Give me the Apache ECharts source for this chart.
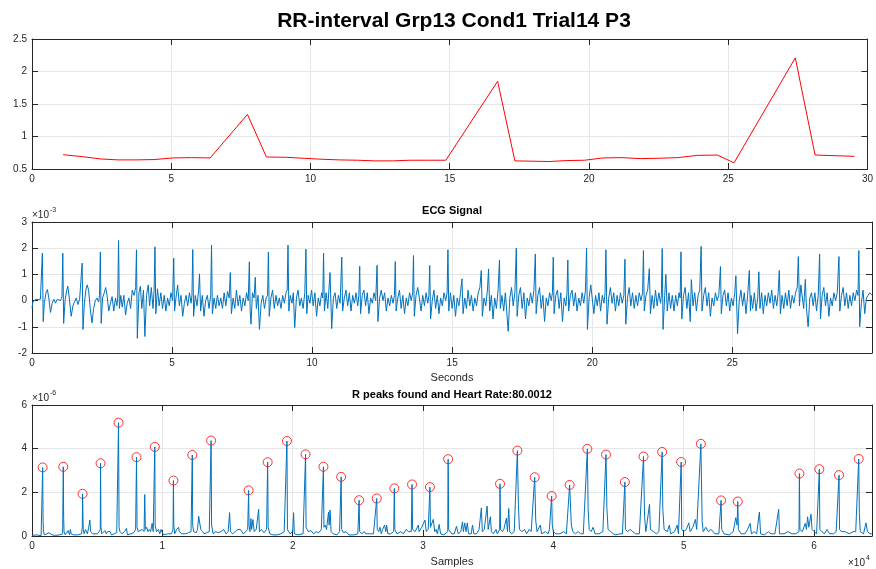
<!DOCTYPE html>
<html><head><meta charset="utf-8">
<script src="https://cdn.jsdelivr.net/npm/echarts@6/dist/echarts.min.js"></script>
<style>html,body{margin:0;padding:0;background:#fff}#c{width:876px;height:569px}</style>
</head><body><div id="c"></div>
<script>
// ---------- DATA ----------
const chartTitle = 'RR-interval Grp13 Cond1 Trial14 P3';
const ecgTitle = 'ECG Signal';
const peaksTitle = 'R peaks found and Heart Rate:80.0012';

// RR interval (s) plotted at beat time (s)
const rrSeconds = [1.117,1.806,2.449,3.091,3.734,4.385,5.051,5.726,6.397,7.737,8.417,9.106,9.772,10.41,11.04,11.69,12.31,12.94,13.58,14.21,14.86,16.72,17.34,17.96,18.57,19.20,19.84,20.50,21.18,21.84,22.51,23.19,23.89,24.61,25.21,27.41,28.12,28.83,29.53];
const rrValues  = [0.72,0.69,0.655,0.64,0.64,0.645,0.67,0.675,0.67,1.34,0.685,0.68,0.665,0.65,0.64,0.635,0.625,0.625,0.635,0.635,0.635,1.85,0.625,0.62,0.615,0.63,0.635,0.67,0.675,0.66,0.665,0.675,0.71,0.715,0.595,2.21,0.715,0.705,0.695];

// ECG signal: [seconds, value x1e-3]
const ecgPoints = [
[0.00,-0.30],[0.03,-0.05],[0.06,0.02],[0.10,0.00],[0.14,0.05],[0.18,0.02],[0.22,0.04],[0.26,0.00],[0.30,0.05],[0.34,0.10],
[0.37,1.81],[0.40,-0.80],[0.44,-0.10],[0.50,0.30],[0.55,0.42],[0.60,0.10],[0.66,-0.45],[0.72,-0.10],[0.78,0.05],[0.84,-0.10],[0.90,0.05],[0.96,0.10],[1.02,0.00],[1.07,0.15],
[1.10,1.81],[1.13,-0.87],[1.18,0.00],[1.24,0.40],[1.28,0.55],[1.33,0.10],[1.40,-0.60],[1.46,-0.20],[1.52,-0.05],[1.58,0.10],[1.64,-0.15],[1.70,0.05],[1.76,0.10],
[1.79,1.43],[1.82,-1.10],[1.87,-0.10],[1.93,0.45],[1.97,0.60],[2.02,0.40],[2.08,-0.30],[2.14,-0.85],[2.20,-0.30],[2.26,0.00],[2.32,0.10],[2.38,-0.05],[2.41,0.20],
[2.44,1.85],[2.47,-0.87],[2.52,0.10],[2.58,0.30],[2.63,0.50],[2.68,0.20],[2.74,-0.40],[2.80,-0.10],[2.86,0.15],[2.92,-0.40],[2.98,0.10],[3.03,-0.20],[3.06,0.10],
[3.09,2.29],[3.12,-0.30],[3.17,0.20],[3.22,-0.25],[3.28,0.20],[3.34,-0.55],[3.40,-0.10],[3.46,0.10],[3.52,-0.30],[3.58,0.40],[3.64,0.20],[3.70,0.50],
[3.73,1.94],[3.76,-1.44],[3.82,0.30],[3.87,0.55],[3.92,-0.30],[3.98,0.40],[4.03,-1.37],[4.09,0.20],[4.15,0.60],[4.20,-0.20],[4.26,0.50],[4.32,-0.30],[4.36,0.40],
[4.39,2.05],[4.42,-0.50],[4.48,0.45],[4.54,-0.20],[4.60,0.30],[4.66,-0.30],[4.72,0.20],[4.78,-0.40],[4.84,0.10],[4.90,-0.20],[4.96,0.30],[5.02,0.00],
[5.06,1.62],[5.09,-0.40],[5.14,0.10],[5.20,0.60],[5.26,-0.20],[5.32,0.20],[5.38,-0.60],[5.44,-0.10],[5.50,0.20],[5.56,-0.20],[5.62,0.30],[5.68,-0.10],[5.71,0.20],
[5.74,1.95],[5.77,-0.60],[5.83,0.20],[5.89,-0.20],[5.95,0.40],[5.98,1.02],[6.02,-0.40],[6.08,0.20],[6.14,-0.60],[6.20,0.00],[6.26,0.20],[6.32,-0.30],[6.38,0.20],
[6.41,2.12],[6.44,-0.50],[6.50,0.10],[6.56,-0.30],[6.62,0.20],[6.68,-0.20],[6.74,0.10],[6.80,-0.30],[6.86,0.30],[6.92,-0.20],[6.98,0.35],[7.04,0.10],
[7.08,1.07],[7.12,-0.50],[7.18,0.10],[7.24,-0.30],[7.30,0.40],[7.36,-0.20],[7.42,0.20],[7.48,-0.40],[7.54,0.10],[7.60,-0.20],[7.66,0.30],[7.72,0.00],
[7.76,1.48],[7.79,-0.40],[7.82,-0.90],[7.87,0.30],[7.93,0.10],[7.97,0.89],[8.01,-0.30],[8.07,0.20],[8.12,-1.10],[8.18,-0.10],[8.24,0.20],[8.30,-0.30],[8.36,0.10],[8.41,0.20],
[8.44,1.85],[8.47,-0.60],[8.53,0.10],[8.59,0.40],[8.65,-0.30],[8.71,0.20],[8.77,-0.20],[8.83,0.10],[8.89,-0.30],[8.95,0.20],[9.01,-0.10],[9.07,0.30],[9.11,0.40],
[9.14,2.12],[9.17,-0.40],[9.22,0.20],[9.28,-0.10],[9.33,0.30],[9.38,-1.03],[9.44,0.10],[9.50,0.40],[9.56,-0.20],[9.62,0.10],[9.68,-0.30],[9.74,0.30],
[9.78,1.96],[9.81,-0.50],[9.86,0.20],[9.92,-0.10],[9.98,0.40],[10.04,-0.20],[10.10,0.30],[10.16,-0.60],[10.22,0.10],[10.28,-0.20],[10.34,0.30],[10.38,0.10],
[10.41,1.81],[10.44,-0.40],[10.50,0.30],[10.56,-0.30],[10.60,0.40],[10.64,1.07],[10.70,-1.07],[10.76,0.10],[10.82,0.30],[10.88,-0.30],[10.94,0.20],[11.00,-0.10],
[11.06,1.66],[11.09,-0.40],[11.15,0.10],[11.21,0.40],[11.27,-0.20],[11.33,0.30],[11.39,-0.40],[11.45,0.20],[11.51,-0.10],[11.57,0.30],[11.63,-0.20],[11.67,0.20],
[11.70,1.31],[11.73,-0.50],[11.79,0.20],[11.85,0.40],[11.91,-0.20],[11.97,0.30],[12.03,-0.50],[12.09,0.10],[12.15,-0.10],[12.21,0.30],[12.27,0.00],
[12.32,1.35],[12.35,-0.80],[12.41,0.10],[12.47,0.40],[12.53,0.00],[12.59,0.30],[12.65,-0.40],[12.71,0.10],[12.77,-0.20],[12.83,0.20],[12.89,-0.10],[12.94,0.20],
[12.97,1.49],[13.00,-0.40],[13.06,0.10],[13.12,0.40],[13.18,-0.30],[13.24,0.20],[13.30,-0.50],[13.36,0.10],[13.42,-0.20],[13.48,0.30],[13.54,0.00],[13.59,0.30],
[13.62,1.72],[13.65,-0.60],[13.71,0.20],[13.77,0.50],[13.83,0.10],[13.89,-0.40],[13.95,0.20],[14.01,-0.20],[14.07,0.30],[14.13,-0.10],[14.17,0.20],
[14.20,1.34],[14.23,-0.70],[14.29,0.00],[14.35,0.40],[14.41,-0.30],[14.47,0.20],[14.53,-0.50],[14.59,0.10],[14.65,-0.20],[14.71,0.30],[14.77,0.00],[14.82,0.30],
[14.85,1.94],[14.88,-0.40],[14.94,0.30],[15.00,-0.30],[15.06,0.20],[15.12,-0.60],[15.18,0.10],[15.24,-0.20],[15.30,0.30],
[15.35,0.83],[15.39,-0.50],[15.45,0.10],[15.51,-0.30],[15.57,0.40],[15.63,-0.20],[15.69,0.20],[15.75,-0.40],[15.81,0.10],[15.87,-0.20],[15.93,0.30],[15.99,0.50],
[16.04,1.15],[16.08,-0.60],[16.14,0.10],[16.20,-0.20],[16.26,0.40],[16.30,1.21],[16.34,-0.40],[16.40,0.20],[16.46,-0.70],[16.52,0.10],[16.58,-0.30],[16.64,0.40],
[16.69,1.55],[16.72,-0.30],[16.78,0.20],[16.84,-0.40],[16.90,0.30],[17.00,-1.17],[17.06,0.10],[17.12,0.50],[17.18,-0.20],[17.24,0.30],
[17.29,2.00],[17.32,-0.60],[17.38,0.20],[17.44,0.50],[17.50,-0.30],[17.56,0.30],[17.62,-0.70],[17.68,0.10],[17.74,-0.20],[17.80,0.30],[17.86,-0.10],[17.92,0.40],
[17.97,1.78],[18.00,-0.50],[18.06,0.20],[18.12,0.50],[18.18,-0.30],[18.24,0.20],[18.30,-0.80],[18.36,0.10],[18.42,-0.20],[18.48,0.30],[18.54,0.00],[18.58,0.30],
[18.61,1.66],[18.64,-0.50],[18.70,0.20],[18.76,0.40],[18.82,-0.30],[18.88,0.30],[18.94,-0.80],[19.00,0.10],[19.06,-0.20],[19.10,0.30],
[19.13,1.55],[19.16,-0.40],[19.22,0.20],[19.28,0.40],[19.34,-0.20],[19.40,0.30],[19.46,-0.40],[19.52,0.10],[19.58,-0.20],[19.64,0.30],[19.70,-0.10],[19.76,0.40],
[19.80,2.00],[19.83,-1.10],[19.89,0.10],[19.95,0.60],[20.00,0.66],[20.06,-0.50],[20.12,0.20],[20.18,-0.20],[20.24,0.30],[20.30,-0.40],[20.36,0.20],[20.42,-0.10],[20.46,0.30],
[20.49,1.94],[20.53,-0.90],[20.59,0.10],[20.65,0.50],[20.71,-0.10],[20.77,0.30],[20.83,-0.40],[20.89,0.20],[20.95,-0.20],[21.01,0.30],[21.07,-0.10],[21.13,0.20],
[21.17,1.58],[21.20,-0.90],[21.26,0.10],[21.32,0.50],[21.38,-0.20],[21.44,0.30],[21.50,-0.30],[21.56,0.20],[21.62,-0.20],[21.68,0.30],[21.74,0.00],[21.80,0.30],
[21.83,1.91],[21.86,-0.40],[21.92,0.20],[21.98,0.40],[22.04,1.22],[22.08,-0.50],[22.14,0.20],[22.20,-0.30],[22.26,0.40],[22.32,-0.20],[22.38,0.30],[22.44,-0.10],[22.47,0.20],
[22.50,1.99],[22.53,-1.10],[22.59,0.20],[22.63,1.00],[22.68,-0.40],[22.74,0.30],[22.80,-0.30],[22.86,0.20],[22.92,-0.40],[22.98,0.20],[23.04,-0.20],[23.10,0.30],[23.14,0.10],
[23.17,1.86],[23.20,-0.70],[23.26,0.20],[23.32,0.50],[23.38,-0.30],[23.44,0.30],[23.50,-0.80],[23.54,0.80],[23.60,-0.20],[23.66,0.30],[23.72,-0.40],[23.78,0.20],[23.84,0.40],
[23.89,2.07],[23.92,-0.40],[23.98,0.20],[24.04,0.50],[24.10,-0.20],[24.16,0.30],[24.22,-0.60],[24.28,0.10],[24.34,-0.20],[24.40,0.30],[24.46,0.00],[24.52,0.20],
[24.58,1.30],[24.61,-0.50],[24.67,0.20],[24.73,0.40],[24.79,-0.20],[24.85,0.30],[24.91,-0.40],[24.97,0.10],[25.03,-0.20],[25.09,0.30],
[25.13,0.95],[25.19,-1.26],[25.25,0.00],[25.31,0.40],[25.37,-0.20],[25.43,0.30],[25.49,-0.50],[25.55,0.20],
[25.61,1.15],[25.65,-0.40],[25.67,0.20],[25.73,-0.30],[25.79,0.30],[25.85,-0.40],[25.91,0.10],[25.95,1.10],[25.99,-0.30],[26.05,0.30],[26.11,-0.50],[26.17,0.20],[26.23,-0.20],[26.29,0.30],[26.35,-0.10],[26.41,0.40],[26.47,-0.30],[26.53,0.20],[26.59,-0.20],[26.64,0.30],
[26.68,1.15],[26.72,-0.50],[26.78,0.20],[26.84,-0.30],[26.90,0.30],[26.96,-0.20],[27.02,0.40],[27.08,-0.30],[27.14,0.20],[27.20,-0.10],[27.26,0.30],[27.32,0.50],
[27.36,1.68],[27.40,-0.20],[27.45,0.60],[27.55,-0.30],[27.61,0.81],[27.65,-0.30],[27.71,-1.00],[27.77,0.10],[27.83,0.30],[27.89,-0.20],[27.95,0.30],[28.01,-0.40],[28.07,0.20],
[28.12,1.78],[28.15,-0.70],[28.21,0.20],[28.27,0.50],[28.33,-0.20],[28.39,0.30],[28.45,-0.60],[28.51,0.10],[28.57,-0.20],[28.63,0.30],[28.69,0.00],[28.75,0.30],
[28.81,1.68],[28.84,-0.40],[28.90,0.20],[28.96,0.50],[29.02,-0.20],[29.08,0.30],[29.14,-0.30],[29.20,0.20],[29.26,-0.20],[29.32,0.30],[29.38,0.00],[29.44,0.40],[29.49,0.20],
[29.52,1.91],[29.55,-1.00],[29.61,-0.10],[29.67,0.40],[29.73,-0.50],[29.79,0.10],[29.85,0.20],[29.91,0.30],[29.99,0.20]
];

// Detected R peaks: sample index and value (x1e-6)
const peakSamples = [817,2400,3880,5260,6640,8020,9420,10850,12300,13740,16620,18080,19560,20990,22360,23720,25100,26450,27800,29160,30530,31930,35910,37240,38570,39870,41250,42610,44040,45490,46920,48350,49810,51320,52870,54150,58880,60410,61920,63430];
const peakValues  = [3.14,3.17,1.93,3.33,5.19,3.61,4.08,2.54,3.71,4.37,2.09,3.38,4.35,3.74,3.17,2.71,1.64,1.72,2.18,2.36,2.24,3.52,2.39,3.91,2.69,1.83,2.34,3.99,3.73,2.47,3.64,3.85,3.39,4.22,1.63,1.58,2.86,3.06,2.79,3.53];

// Envelope signal: [sample, value x1e-6]
const envPoints = [
[0,0.02],[300,0.05],[700,0.02],[790,0.1],[817,3.14],[850,0.7],[880,0.2],[950,0.05],[1100,0.1],[1300,0.15],[1430,0.22],[1550,0.05],[1800,0.03],[2100,0.05],[2350,0.1],
[2400,3.17],[2430,0.8],[2460,0.2],[2550,0.05],[2700,0.1],[2780,0.25],[2830,0.3],[2880,0.05],[2950,0.3],[3000,0.1],[3200,0.05],[3500,0.05],[3800,0.1],[3860,0.4],
[3880,1.93],[3900,1.2],[3930,0.3],[4000,0.1],[4100,0.3],[4190,0.3],[4250,0.1],[4350,0.4],[4440,0.73],[4500,0.2],[4650,0.1],[4800,0.15],[5000,0.1],[5150,0.2],[5240,0.3],
[5260,3.33],[5290,0.4],[5350,0.1],[5500,0.15],[5600,0.25],[5700,0.1],[5800,0.2],[5900,0.15],[6000,0.2],[6100,0.05],[6300,0.1],[6500,0.15],[6600,0.2],
[6640,5.19],[6680,0.4],[6750,0.2],[6900,0.1],[7100,0.2],[7250,0.35],[7320,0.05],[7600,0.1],[7800,0.15],[7950,0.3],
[8020,3.61],[8040,2.05],[8060,0.4],[8150,0.2],[8300,0.25],[8450,0.3],[8600,0.2],[8650,1.9],[8700,0.3],[8800,0.4],[8900,0.2],[9000,0.3],[9100,0.2],[9220,0.58],[9300,0.2],
[9420,4.08],[9450,0.5],[9550,0.2],[9700,0.3],[9800,0.1],[9900,0.3],[10000,0.15],[10100,0.05],[10400,0.1],[10700,0.1],[10820,0.3],
[10850,2.54],[10880,0.5],[10950,0.1],[11100,0.3],[11250,0.4],[11300,0.2],[11500,0.1],[11800,0.1],[12000,0.15],[12200,0.2],
[12300,3.71],[12330,0.5],[12400,0.2],[12600,0.15],[12700,0.3],[12790,0.9],[12850,0.85],[12950,0.3],[13100,0.2],[13200,0.1],[13400,0.15],[13600,0.2],
[13740,4.37],[13780,0.5],[13900,0.1],[14100,0.2],[14300,0.15],[14500,0.2],[14700,0.3],[14900,0.1],[15050,0.2],[15160,1.07],[15230,0.2],[15400,0.1],[15600,0.2],[15800,0.3],[16000,0.3],[16200,0.1],[16400,0.2],[16550,0.3],
[16620,2.09],[16650,0.5],[16720,0.2],[16800,0.8],[16850,0.3],[16950,0.75],[17050,0.2],[17200,0.3],[17390,1.22],[17450,0.2],[17600,0.3],[17800,0.15],[18000,0.3],
[18080,3.38],[18120,0.4],[18250,0.1],[18500,0.05],[18800,0.05],[19100,0.1],[19350,0.2],[19500,0.2],
[19560,4.35],[19600,0.3],[19800,0.1],[20000,0.2],[20070,1.07],[20130,0.1],[20400,0.05],[20800,0.1],
[20990,3.74],[21030,0.4],[21200,0.2],[21400,0.25],[21600,0.1],[21800,0.2],[22000,0.15],[22200,0.3],
[22360,3.17],[22400,0.4],[22500,0.5],[22600,0.3],[22750,1.1],[22800,0.5],[22870,1.19],[22950,0.2],[23100,0.1],[23400,0.05],[23600,0.2],
[23720,2.71],[23760,0.3],[23900,0.15],[24100,0.2],[24300,0.05],[24700,0.05],[25000,0.1],
[25100,1.64],[25140,0.2],[25300,0.1],[25500,0.2],[25600,0.1],[25900,0.1],[26200,0.1],
[26450,1.72],[26490,0.3],[26600,0.2],[26700,0.4],[26800,0.1],[26900,0.3],[27050,0.5],[27150,0.2],[27210,0.5],[27300,0.1],[27500,0.1],[27750,0.2],
[27800,2.18],[27840,0.3],[28000,0.1],[28300,0.2],[28500,0.1],[28700,0.3],[28900,0.2],[29100,0.2],
[29160,2.36],[29200,0.3],[29400,0.2],[29640,0.5],[29700,0.2],[29900,0.4],[30150,0.73],[30250,0.2],[30400,0.3],
[30530,2.24],[30570,0.4],[30790,0.76],[30900,0.2],[31000,0.3],[31100,0.1],[31240,0.53],[31350,0.1],[31600,0.05],[31900,0.2],
[31930,3.52],[31970,0.3],[32200,0.1],[32400,0.1],[32570,0.45],[32700,0.1],[32900,0.2],[33030,0.65],[33100,0.2],[33200,0.6],[33300,0.2],[33400,0.6],[33500,0.1],[33700,0.1],[33800,0.5],[33900,0.1],[34100,0.1],[34300,0.3],[34480,1.29],[34550,0.2],[34700,0.3],[34920,1.37],[35000,0.3],[35170,0.88],[35250,0.2],[35400,0.1],[35600,0.3],[35700,0.1],[35880,0.3],
[35910,2.39],[35950,0.3],[36100,0.2],[36200,0.3],[36400,0.82],[36480,0.2],[36580,1.26],[36650,0.2],[36800,0.1],[37000,0.2],
[37240,3.91],[37320,1.45],[37400,0.3],[37600,0.2],[37800,0.3],[37950,0.1],[38150,0.3],[38300,0.2],[38400,0.25],
[38570,2.69],[38650,0.7],[38750,0.2],[39000,0.5],[39100,0.1],[39400,0.2],[39600,0.1],[39700,0.3],
[39870,1.83],[39920,0.5],[40000,0.2],[40200,0.1],[40500,0.1],[40800,0.2],[41000,0.1],
[41250,2.34],[41380,0.5],[41500,0.2],[41700,0.1],[41900,0.2],[42100,0.1],[42300,0.1],
[42610,3.99],[42670,1.22],[42750,0.3],[42900,0.2],[43050,0.4],[43200,0.1],[43500,0.1],[43800,0.2],
[44040,3.73],[44110,1.26],[44200,0.3],[44400,0.2],[44600,0.1],[44800,0.05],[45100,0.1],[45300,0.1],
[45490,2.47],[45530,0.3],[45700,0.2],[45900,0.3],[46100,0.2],[46300,0.1],[46600,0.1],
[46920,3.64],[47000,0.88],[47100,0.2],[47380,1.45],[47450,0.3],[47700,0.2],[47900,0.1],[48100,0.2],
[48350,3.85],[48400,1.22],[48500,0.3],[48750,0.2],[48900,0.5],[49000,0.1],[49300,0.2],[49500,0.5],[49600,0.1],
[49810,3.39],[49850,0.3],[50000,0.2],[50200,0.3],[50390,0.6],[50500,0.2],[50700,0.4],[50900,0.76],[51000,0.3],
[51320,4.22],[51420,0.66],[51500,0.2],[51700,0.4],[51900,0.2],[52100,0.3],[52400,0.1],[52700,0.1],
[52870,1.63],[52920,0.3],[53100,0.1],[53500,0.05],[53800,0.2],[54000,0.84],[54100,0.5],
[54150,1.58],[54200,0.3],[54400,0.1],[54700,0.1],[54900,0.3],[55100,0.58],[55200,0.1],[55400,0.2],[55600,0.1],[55810,1.1],[55900,0.1],[56200,0.05],[56500,0.2],[56700,0.1],[57000,0.1],[57290,1.22],[57350,0.1],[57700,0.1],[58000,0.2],[58300,0.1],[58600,0.1],[58850,0.2],
[58880,2.86],[58920,0.3],[59100,0.2],[59330,0.58],[59420,0.3],[59510,0.88],[59600,0.4],[59770,1.0],[59850,0.3],[60000,0.2],[60200,0.1],
[60410,3.06],[60450,0.3],[60600,0.2],[60800,0.1],[61000,0.3],[61200,0.1],[61500,0.1],[61700,0.2],
[61920,2.79],[61960,0.3],[62100,0.2],[62400,0.2],[62700,0.1],[63000,0.2],[63200,0.2],
[63430,3.53],[63480,1.03],[63550,0.2],[63700,0.2],[63800,0.1],[63990,0.6],[64100,0.2],[64300,0.1],[64450,0.1]
];

// ---------- CHART ----------
const FONT = 'Liberation Sans, Arial, sans-serif';
const AX = '#262626';
const GRIDC = '#e6e6e6';

function xAx(gi, min, max, interval, top, fmt) {
  return {
    type: 'value', gridIndex: gi, min: min, max: max, interval: interval,
    position: top ? 'top' : 'bottom',
    axisLine: { show: true, onZero: false, lineStyle: { color: AX, width: 1 } },
    axisTick: { show: true, inside: true, length: 6, lineStyle: { color: AX, width: 1 } },
    axisLabel: { show: !top, color: AX, fontSize: 10, fontFamily: FONT, margin: 5, formatter: fmt },
    splitLine: { show: !top, lineStyle: { color: GRIDC, width: 1 } }
  };
}
function yAx(gi, min, max, interval, right) {
  return {
    type: 'value', gridIndex: gi, min: min, max: max, interval: interval,
    position: right ? 'right' : 'left',
    axisLine: { show: true, onZero: false, lineStyle: { color: AX, width: 1 } },
    axisTick: { show: true, inside: true, length: 6, lineStyle: { color: AX, width: 1 } },
    axisLabel: { show: !right, color: AX, fontSize: 10, fontFamily: FONT, margin: 5 },
    splitLine: { show: !right, lineStyle: { color: GRIDC, width: 1 } }
  };
}
const fmt5 = v => (Math.abs(v % 5) < 1e-9 ? String(v) : '');
const fmtS = v => (v % 10000 === 0 ? String(v / 10000) : '');

const chart = echarts.init(document.getElementById('c'), null, { renderer: 'canvas' });
chart.setOption({
  animation: false,
  backgroundColor: '#ffffff',
  grid: [
    { left: 32, top: 39, width: 838, height: 130 },
    { left: 32, top: 222, width: 840, height: 131 },
    { left: 32, top: 405, width: 840, height: 131 }
  ],
  xAxis: [
    xAx(0, 0, 30, 5, false), xAx(0, 0, 30, 5, true),
    xAx(1, 0, 29.99, 5, false, fmt5), xAx(1, 0, 29.99, 5, true),
    xAx(2, 0, 64450, 10000, false, fmtS), xAx(2, 0, 64450, 10000, true)
  ],
  yAxis: [
    yAx(0, 0.5, 2.5, 0.5, false), yAx(0, 0.5, 2.5, 0.5, true),
    yAx(1, -2, 3, 1, false), yAx(1, -2, 3, 1, true),
    yAx(2, 0, 6, 2, false), yAx(2, 0, 6, 2, true)
  ],
  series: [
    { type: 'line', xAxisIndex: 0, yAxisIndex: 0, showSymbol: false,
      data: rrSeconds.map((t, i) => [t, rrValues[i]]),
      lineStyle: { color: '#ff0000', width: 1 }, itemStyle: { color: '#ff0000' } },
    { type: 'line', xAxisIndex: 2, yAxisIndex: 2, showSymbol: false, data: ecgPoints,
      lineStyle: { color: '#0072BD', width: 1 }, itemStyle: { color: '#0072BD' } },
    { type: 'line', xAxisIndex: 4, yAxisIndex: 4, showSymbol: false, data: envPoints,
      lineStyle: { color: '#0072BD', width: 1 }, itemStyle: { color: '#0072BD' } },
    { type: 'scatter', xAxisIndex: 4, yAxisIndex: 4, symbol: 'circle', symbolSize: 9,
      data: peakSamples.map((s, i) => [s, peakValues[i]]),
      itemStyle: { color: 'rgba(0,0,0,0)', borderColor: '#ff0000', borderWidth: 1 } }
  ],
  graphic: [
    { type: 'text', x: 454, y: 21, style: { text: chartTitle, fontSize: 21, fontWeight: 'bold', fontFamily: FONT, fill: '#000', align: 'center', verticalAlign: 'middle' } },
    { type: 'text', x: 452, y: 211, style: { text: ecgTitle, fontSize: 11, fontWeight: 'bold', fontFamily: FONT, fill: '#000', align: 'center', verticalAlign: 'middle' } },
    { type: 'text', x: 452, y: 395, style: { text: peaksTitle, fontSize: 11, fontWeight: 'bold', fontFamily: FONT, fill: '#000', align: 'center', verticalAlign: 'middle' } },
    { type: 'text', x: 452, y: 378, style: { text: 'Seconds', fontSize: 11, fontFamily: FONT, fill: AX, align: 'center', verticalAlign: 'middle' } },
    { type: 'text', x: 452, y: 562, style: { text: 'Samples', fontSize: 11, fontFamily: FONT, fill: AX, align: 'center', verticalAlign: 'middle' } },
    { type: 'text', x: 32, y: 215, style: { text: '\u00d710', fontSize: 10, fontFamily: FONT, fill: AX, align: 'left', verticalAlign: 'middle' } },
    { type: 'text', x: 50, y: 210, style: { text: '-3', fontSize: 7, fontFamily: FONT, fill: AX, align: 'left', verticalAlign: 'middle' } },
    { type: 'text', x: 32, y: 398, style: { text: '\u00d710', fontSize: 10, fontFamily: FONT, fill: AX, align: 'left', verticalAlign: 'middle' } },
    { type: 'text', x: 50, y: 393, style: { text: '-6', fontSize: 7, fontFamily: FONT, fill: AX, align: 'left', verticalAlign: 'middle' } },
    { type: 'text', x: 848, y: 563, style: { text: '\u00d710', fontSize: 10, fontFamily: FONT, fill: AX, align: 'left', verticalAlign: 'middle' } },
    { type: 'text', x: 866, y: 558, style: { text: '4', fontSize: 7, fontFamily: FONT, fill: AX, align: 'left', verticalAlign: 'middle' } }
  ]
});
</script>
</body></html>
